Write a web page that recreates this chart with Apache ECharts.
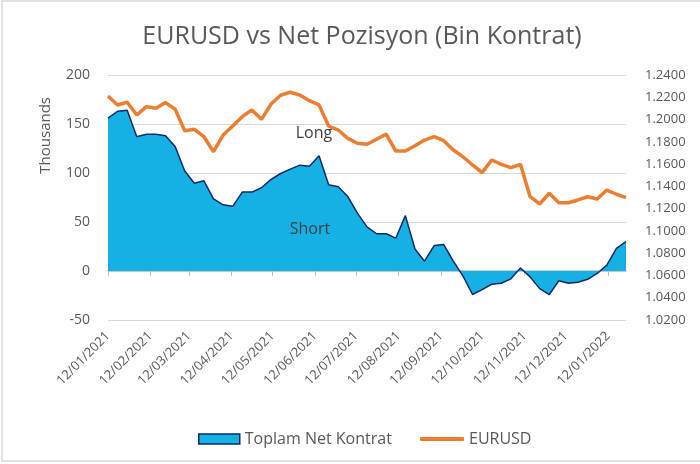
<!DOCTYPE html>
<html>
<head>
<meta charset="utf-8">
<script src="https://cdn.jsdelivr.net/npm/echarts@6/dist/echarts.min.js"></script>
<style>
  html, body { margin: 0; padding: 0; background: #fff; }
  #chart { width: 700px; height: 464px; }
</style>
</head>
<body>
<div id="chart"></div>
<script>
// weekly COT reports, first one 12/01/2021
const startDate = Date.UTC(2021, 0, 12)
const weekCount = 55

// net position, thousands of contracts
const netContracts = [
  156, 163, 164, 137, 139.5, 139.5, 138, 127, 102, 89.5,
  92, 73.5, 67.5, 66, 80.5, 80.5, 85, 93.5, 99.5, 104,
  108, 107, 117.5, 88, 86, 76, 59, 45, 38, 38,
  33.5, 56.5, 22.5, 10, 26, 27, 10, -5, -24, -19,
  -13.5, -12.5, -8, 3, -6, -18, -24, -10, -12.5, -11.5,
  -8.5, -2.5, 6, 23, 30
]

const eurusd = [
  1.2211, 1.2131, 1.2155, 1.2041, 1.2116, 1.2101, 1.2152, 1.2092, 1.1900, 1.1912,
  1.1846, 1.1711, 1.1861, 1.1942, 1.2026, 1.2086, 1.2002, 1.2140, 1.2218, 1.2245,
  1.2220, 1.2169, 1.2131, 1.1942, 1.1906, 1.1831, 1.1787, 1.1778, 1.1823, 1.1870,
  1.1717, 1.1717, 1.1765, 1.1816, 1.1846, 1.1810, 1.1727, 1.1666, 1.1592, 1.1523,
  1.1637, 1.1598, 1.1568, 1.1598, 1.1307, 1.1242, 1.1338, 1.1253, 1.1253, 1.1278,
  1.1307, 1.1287, 1.1367, 1.1329, 1.1298
]

const tickLabels = [
  '12/01/2021', '12/02/2021', '12/03/2021', '12/04/2021', '12/05/2021',
  '12/06/2021', '12/07/2021', '12/08/2021', '12/09/2021', '12/10/2021',
  '12/11/2021', '12/12/2021', '12/01/2022'
]

const DAY = 24 * 3600 * 1000
const toDay = (s) => {
  const [d, m, y] = s.split('/').map(Number)
  return Math.round((Date.UTC(y, m - 1, d) - startDate) / DAY)
}
const tickDays = tickLabels.map(toDay)
const weekDays = []
for (let i = 0; i < weekCount; i++) weekDays.push(i * 7)
const lastDay = weekDays[weekDays.length - 1]

const gray = '#595959'
const font = 'Open Sans'
const blue = '#15b1e5'
const navy = '#0d2a66'
const orange = '#ed7d31'

const chart = echarts.init(document.getElementById('chart'))
chart.setOption({
  backgroundColor: '#fff',
  animation: false,
  textStyle: { fontFamily: font },
  title: {
    text: 'EURUSD vs Net Pozisyon (Bin Kontrat)',
    left: 357,
    top: 19,
    textAlign: 'center',
    textStyle: { color: gray, fontSize: 25, fontWeight: 'normal', fontFamily: font },
  },
  legend: [
    {
      left: 193,
      top: 426,
      itemWidth: 41,
      itemHeight: 10,
      itemGap: 6,
      textStyle: { color: gray, fontSize: 16, fontFamily: font },
      data: [{ name: 'Toplam Net Kontrat', icon: 'rect', itemStyle: { color: blue, borderColor: navy, borderWidth: 1.5 } }],
    },
    {
      left: 415,
      top: 426,
      itemWidth: 44,
      itemHeight: 4,
      itemGap: 6,
      textStyle: { color: gray, fontSize: 16, fontFamily: font },
      data: [{ name: 'EURUSD', icon: 'roundRect', itemStyle: { color: orange } }],
    },
  ],
  grid: { left: 108, right: 74, top: 75, bottom: 144 },
  xAxis: [
    {
      type: 'value',
      min: 0,
      max: lastDay,
      position: 'bottom',
      axisLine: { show: false, onZero: false },
      axisTick: { show: false },
      splitLine: { show: false },
      axisLabel: {
        customValues: tickDays,
        rotate: 45,
        margin: 14,
        color: gray,
        fontSize: 13,
        fontFamily: font,
        formatter: (v) => tickLabels[tickDays.indexOf(v)] || '',
      },
    },
    {
      type: 'value',
      min: 0,
      max: lastDay,
      position: 'top',
      axisLine: { show: true, onZero: true, onZeroAxisIndex: 0, lineStyle: { color: '#bfbfbf', width: 1.5 } },
      axisTick: { show: true, inside: true, length: 5, customValues: tickDays, lineStyle: { color: '#bfbfbf' } },
      axisLabel: { show: false },
      splitLine: { show: false },
    },
  ],
  yAxis: [
    {
      type: 'value',
      min: -50,
      max: 200,
      interval: 50,
      axisLine: { show: false },
      axisTick: { show: false },
      splitLine: { lineStyle: { color: '#d9d9d9', width: 1 } },
      axisLabel: { color: gray, fontSize: 14, margin: 18, fontFamily: font },
    },
    {
      type: 'value',
      min: 1.02,
      max: 1.24,
      interval: 0.02,
      axisLine: { show: false },
      axisTick: { show: false },
      splitLine: { show: false },
      axisLabel: {
        color: gray,
        fontSize: 13,
        margin: 19,
        fontFamily: font,
        formatter: (v) => v.toFixed(4),
      },
    },
  ],
  graphic: [
    { type: 'text', left: 38, top: 97, rotation: Math.PI / 2, z: 100,
      style: { text: 'Thousands', fill: gray, fontSize: 15, fontFamily: font } },
    { type: 'text', x: 314, y: 133, z: 100,
      style: { text: 'Long', fill: '#404040', fontSize: 16, fontFamily: font, align: 'center', verticalAlign: 'middle' } },
    { type: 'text', x: 310, y: 229, z: 100,
      style: { text: 'Short', fill: '#404040', fontSize: 16, fontFamily: font, align: 'center', verticalAlign: 'middle' } },
    { type: 'rect', shape: { x: 2, y: 1, width: 704, height: 460 }, z: 100,
      style: { fill: 'none', stroke: '#d9d9d9', lineWidth: 1.5 }, silent: true },
  ],
  series: [
    {
      name: 'Toplam Net Kontrat',
      type: 'line',
      xAxisIndex: 0,
      yAxisIndex: 0,
      symbol: 'none',
      data: weekDays.map((d, i) => [d, netContracts[i]]),
      lineStyle: { color: navy, width: 1.5 },
      itemStyle: { color: blue },
      areaStyle: { color: blue, opacity: 1 },
      z: 1,
    },
    {
      name: 'EURUSD',
      type: 'line',
      xAxisIndex: 0,
      yAxisIndex: 1,
      symbol: 'none',
      data: weekDays.map((d, i) => [d, eurusd[i]]),
      lineStyle: { color: orange, width: 3.5 },
      itemStyle: { color: orange },
      z: 3,
    },
  ],
})
</script>
</body>
</html>
